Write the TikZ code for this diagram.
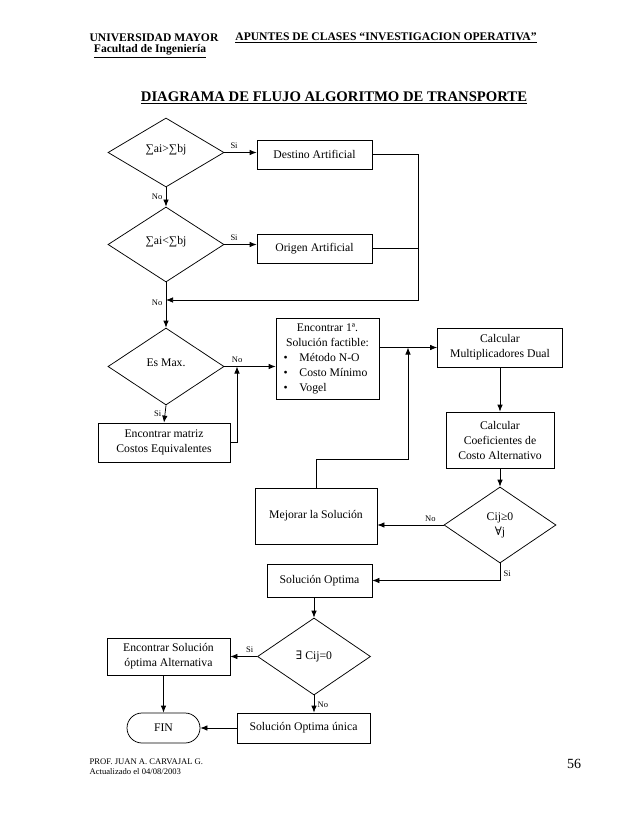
\documentclass[tikz,border=0pt]{standalone}
\usepackage{fontspec}
\setmainfont{Liberation Serif}
\newfontfamily\symfont{DejaVu Serif}
\usetikzlibrary{arrows.meta,shapes.geometric}

\begin{document}
\begin{tikzpicture}[x=1pt,y=-1pt,->,>={Latex[length=7pt,width=5.5pt]},line width=0.75pt,
                font=\fontsize{11.7}{15}\selectfont,
                box/.style={rectangle,draw,inner sep=0pt,align=center},
                decision/.style={diamond,draw,inner sep=0pt,align=center},
                answer/.style={font=\fontsize{8.5}{10}\selectfont},
                heading/.style={font=\fontsize{11.6}{13}\bfseries}]
  \useasboundingbox (0,0) rectangle (638,826);

  % page header
  \node[heading] (uni) at (154,38) {UNIVERSIDAD MAYOR};
  \node[heading] (apuntes) at (386,38) {\underline{APUNTES DE CLASES “INVESTIGACION OPERATIVA”}};
  \node[heading] (facultad) at (150,51) {\underline{Facultad de Ingeniería}};
  \node[font=\fontsize{14.7}{17}\bfseries] (titulo) at (334,98)
    {\underline{DIAGRAMA DE FLUJO ALGORITMO DE TRANSPORTE}};

  % balance of offer and demand
  \node[decision,minimum width=116,minimum height=69] (d1) at (166,152.5)
    {\raisebox{9pt}{∑ai>∑bj}};
  \node[box,minimum width=115,minimum height=29] (destino) at (314.5,154.5) {Destino Artificial};
  \node[decision,minimum width=116,minimum height=75] (d2) at (166,244.5)
    {\raisebox{9pt}{∑ai<∑bj}};
  \node[box,minimum width=115,minimum height=29] (origen) at (314.5,248.5) {Origen Artificial};
  \coordinate (rt) at (418,300);
  \coordinate (j1) at (166,300);

  % max or min
  \node[decision,minimum width=116,minimum height=77] (esmax) at (166,366.5)
    {\raisebox{7pt}{Es Max.}};
  \node[box,minimum width=132,minimum height=39] (costos) at (164,442.5)
    {Encontrar matriz\\Costos Equivalentes};
  \coordinate (j2) at (237,366.5);

  \node[box,minimum width=103,minimum height=81] (e1) at (327.5,358.5)
    {Encontrar 1ª.\\Solución factible:\\
     \makebox[88pt][l]{\makebox[16pt][l]{\textbullet}Método N-O}\\
     \makebox[88pt][l]{\makebox[16pt][l]{\textbullet}Costo Mínimo}\\
     \makebox[88pt][l]{\makebox[16pt][l]{\textbullet}Vogel}};

  % optimality test
  \node[box,minimum width=125,minimum height=39] (mult) at (500,347.5)
    {Calcular\\Multiplicadores Dual};
  \node[box,minimum width=108,minimum height=56] (coef) at (500,440)
    {Calcular\\Coeficientes de\\Costo Alternativo};
  \node[decision,minimum width=112,minimum height=76] (cij) at (500,525)
    {Cij≥0\\{\symfont ∀}j};
  \node[box,minimum width=122,minimum height=56] (mejorar) at (316,516) {Mejorar la Solución};
  \coordinate (j3) at (408,347.5);
  \coordinate (j4) at (408,459);
  \node[box,minimum width=105,minimum height=33] (solopt) at (319.5,580.5) {Solución Optima};

  % alternative optimum
  \node[decision,minimum width=113,minimum height=77] (exists) at (314,656.5)
    {{\symfont ∃} Cij=0};
  \node[box,minimum width=123,minimum height=37] (encalt) at (168.5,656.5)
    {Encontrar Solución\\óptima Alternativa};
  \node[box,rounded corners=15pt,minimum width=73,minimum height=30] (fin) at (163.5,728) {FIN};
  \node[box,minimum width=133,minimum height=30] (unica) at (303.5,728) {Solución Optima única};

  % page footer
  \node[anchor=west,font=\fontsize{8.6}{9}\selectfont] (prof) at (86,762) {PROF. JUAN A. CARVAJAL G.};
  \node[anchor=west,font=\fontsize{8.6}{9}\selectfont] (fecha) at (86,771.5) {Actualizado el 04/08/2003};
  \node[font=\fontsize{14}{16}\selectfont] (pagina) at (574,764) {56};

  \path
    (d1.east) edge node[answer,above,pos=0.3] {Si} (d1.east -| destino.west)
    (d2.east) edge node[answer,above,pos=0.3] {Si} (d2.east -| origen.west)
    (d1.south) edge node[answer,left] {No} (d2.north)
    (esmax.east) edge node[answer,above,pos=0.25] {No} (esmax.east -| e1.west)
    (esmax.south) edge node[answer,left] {Si} (costos.north)
    (e1.east |- mult.west) edge (mult.west)
    (mult.south) edge (coef.north)
    (coef.south) edge (cij.north)
    (cij.west) edge node[answer,above,pos=0.2] {No} (cij.west -| mejorar.east)
    (exists.north |- solopt.south) edge (exists.north)
    (exists.west) edge node[answer,above,pos=0.28] {Si} (exists.west -| encalt.east)
    (fin.north |- encalt.south) edge (fin.north)
    (exists.south) edge node[answer,right,pos=0.55] {No} (exists.south |- unica.north)
    (unica.west) edge (fin.east);

  \draw (destino.east) -| (rt) -- (j1);
  \draw[-] (origen.east) -- (origen.east -| rt);
  \draw (d2.south) -- node[answer,left,pos=0.45] {No} (esmax.north);
  \draw (costos.east) -| (j2);
  \draw (mejorar.north) |- (j4) -- (j3);
  \draw (cij.south) |- node[answer,right,pos=0.3] {Si} (solopt.east);
\end{tikzpicture}
\end{document}
